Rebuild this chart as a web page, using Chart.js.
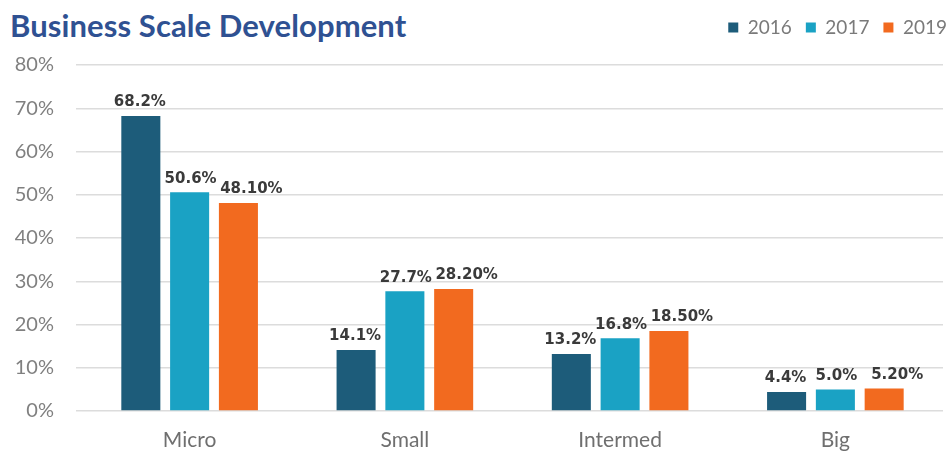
<!DOCTYPE html>
<html>
<head>
<meta charset="utf-8">
<script src="https://cdn.jsdelivr.net/npm/chart.js@4/dist/chart.umd.min.js"></script>
<style>
  html, body { margin: 0; padding: 0; background: #ffffff; }
  #wrap { position: relative; width: 949px; height: 452px; }
  #title {
    position: absolute; left: 10px; top: 6px; margin: 0;
    font: bold 31px Lato, "Open Sans", sans-serif; color: #2f5192;
    white-space: nowrap; letter-spacing: 0.1px;
  }
  canvas { position: absolute; left: 0; top: 0; }
</style>
</head>
<body>
<div id="wrap">
  <h1 id="title">Business Scale Development</h1>
  <canvas id="c" width="949" height="452"></canvas>
</div>
<script>
// Business size categories and share of firms per year (percent)
const categories = ['Micro', 'Small', 'Intermed', 'Big'];
const seriesNames = ['2016', '2017', '2019'];
const share2016 = [68.2, 14.1, 13.2, 4.4];
const share2017 = [50.6, 27.7, 16.8, 5.0];
const share2019 = [48.1, 28.2, 18.5, 5.2];
const labelDecimals = [1, 1, 2];
const yTicks = [0, 10, 20, 30, 40, 50, 60, 70, 80];

const colors = ['#1d5c7a', '#1aa2c4', '#f26a1f'];
const seriesValues = [share2016, share2017, share2019];
// horizontal nudge of each series' value labels, px
const labelShift = [-1, 1, 13];

// Writes each bar's value just above it
const valueLabels = {
  id: 'valueLabels',
  afterDatasetsDraw(chart) {
    const ctx = chart.ctx;
    ctx.save();
    ctx.font = 'bold 15px "DejaVu Sans", sans-serif';
    ctx.fillStyle = '#3a3a3a';
    ctx.textAlign = 'center';
    ctx.textBaseline = 'bottom';
    chart.data.datasets.forEach((ds, di) => {
      const meta = chart.getDatasetMeta(di);
      meta.data.forEach((bar, i) => {
        const txt = ds.data[i].toFixed(labelDecimals[di]) + '%';
        ctx.fillText(txt, bar.x + labelShift[di], bar.y - 6);
      });
    });
    ctx.restore();
  }
};

// Extra room under the legend row, and the legend pushed to the right edge
const legendPlace = {
  id: 'legendPlace',
  beforeInit(chart) {
    const fit = chart.legend.fit;
    chart.legend.fit = function () {
      fit.call(this);
      this.height += 20;
    };
  },
  afterLayout(chart) {
    chart.legend.left += 18;
    chart.legend.right += 18;
    chart.legend.top += 2;
    chart.legend.bottom += 2;
  }
};

new Chart(document.getElementById('c'), {
  type: 'bar',
  data: {
    labels: categories,
    datasets: seriesNames.map((name, i) => ({
      label: name,
      data: seriesValues[i],
      backgroundColor: colors[i],
      borderWidth: 0,
      categoryPercentage: 0.68,
      barPercentage: 0.8
    }))
  },
  options: {
    responsive: false,
    animation: false,
    devicePixelRatio: 1,
    layout: { padding: { top: 2, left: 10, right: 6, bottom: 0 } },
    plugins: {
      legend: {
        position: 'top',
        align: 'end',
        labels: {
          boxWidth: 10,
          boxHeight: 10,
          padding: 14,
          color: '#7a7a7a',
          font: { family: 'Lato', size: 19 }
        }
      },
      tooltip: { enabled: false },
      title: { display: false }
    },
    scales: {
      x: {
        grid: { display: false },
        border: { display: false },
        ticks: {
          color: '#6f6f6f',
          padding: 9,
          font: { family: 'Lato', size: 21 }
        },
        afterFit(scale) { scale.height = 41; }
      },
      y: {
        min: 0,
        max: 80,
        afterBuildTicks(scale) { scale.ticks = yTicks.map(v => ({ value: v })); },
        grid: { color: '#dcdcdc', lineWidth: 1.5, tickLength: 6, tickColor: '#dcdcdc' },
        border: { display: false },
        ticks: {
          color: '#808080',
          padding: 22,
          font: { family: 'Lato', size: 20 },
          callback: v => v + '%'
        },
        afterFit(scale) { scale.width = 72; }
      }
    }
  },
  plugins: [valueLabels, legendPlace]
});
</script>
</body>
</html>
